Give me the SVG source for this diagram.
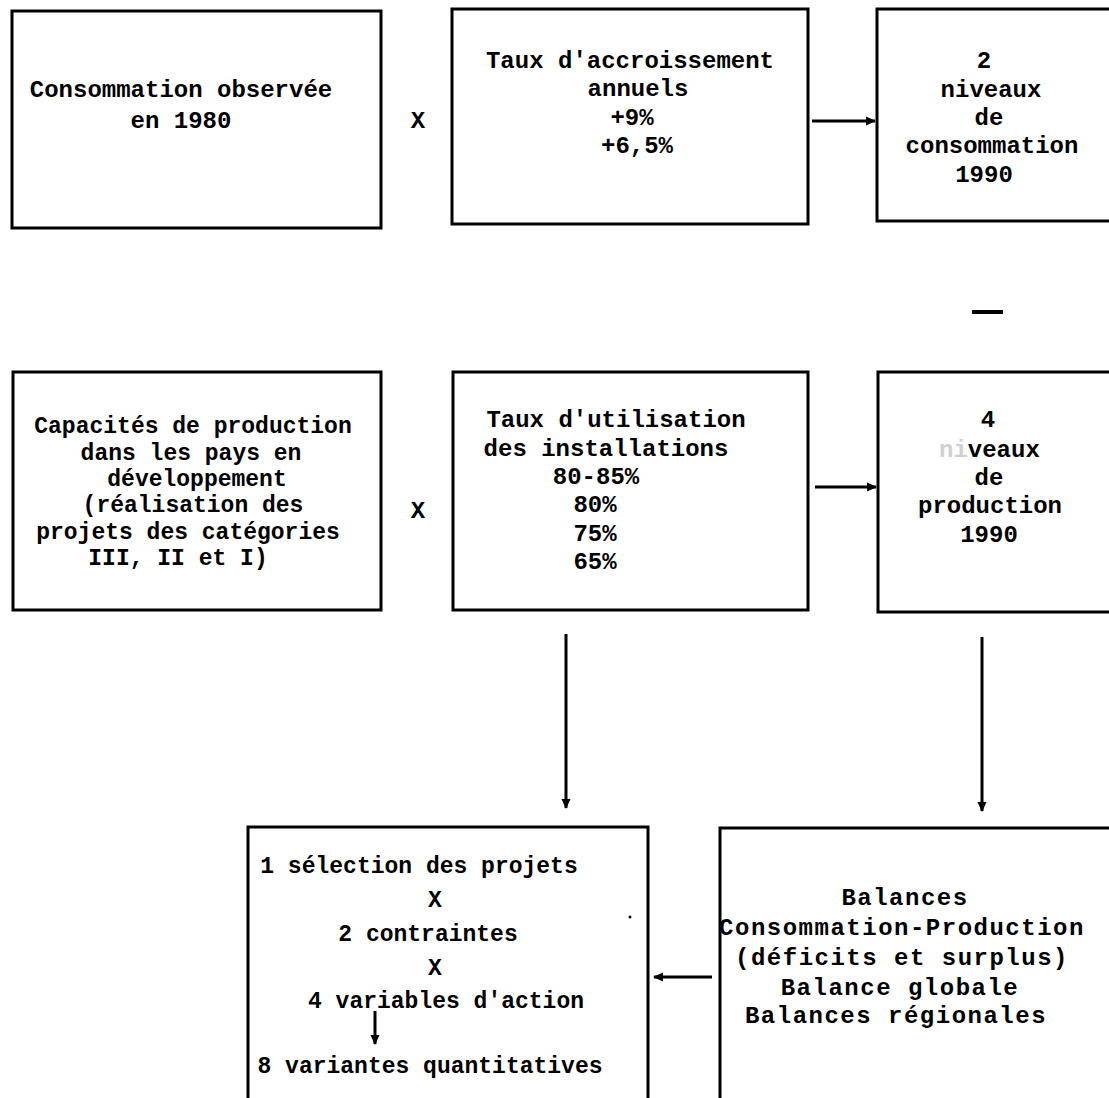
<svg xmlns="http://www.w3.org/2000/svg" width="1109" height="1098" viewBox="0 0 1109 1098">
<defs>
<marker id="ah" viewBox="0 0 10 10" refX="9" refY="5" markerWidth="11" markerHeight="10" markerUnits="userSpaceOnUse" orient="auto"><path d="M0,0.5 L10,5 L0,9.5 Z" fill="#000"/></marker>
</defs>
<style>
.box{fill:none;stroke:#000;stroke-width:3}
.t{font-family:"Liberation Mono","DejaVu Sans Mono",monospace;font-weight:bold;font-size:24px;fill:#000;text-anchor:middle}
.s{font-size:23px}
.w{letter-spacing:1.5px}
.c{stroke:#000;stroke-width:3;fill:none}
.faint{fill:#d0d0d0}
</style>
<rect x="0" y="0" width="1109" height="1098" fill="#fff"/>

<g id="consommation-1980">
<rect class="box" x="12" y="11" width="369" height="217"/>
<text class="t" x="181" y="97">Consommation observée</text>
<text class="t" x="181" y="128">en 1980</text>
</g>
<g id="x-top"><text class="t" x="418" y="128">X</text></g>

<g id="taux-accroissement">
<rect class="box" x="452" y="9" width="356" height="215"/>
<text class="t" x="630" y="68">Taux d'accroissement</text>
<text class="t" x="638" y="96">annuels</text>
<text class="t" x="632" y="125">+9%</text>
<text class="t" x="637" y="153">+6,5%</text>
</g>

<g id="niveaux-consommation">
<rect class="box" x="877" y="9" width="240" height="212"/>
<text class="t" x="984" y="68">2</text>
<text class="t" x="991" y="97">niveaux</text>
<text class="t" x="989" y="125">de</text>
<text class="t" x="992" y="153">consommation</text>
<text class="t" x="984" y="182">1990</text>
</g>

<g id="capacites">
<rect class="box" x="13" y="372" width="368" height="238"/>
<text class="t s" x="193" y="433">Capacités de production</text>
<text class="t s" x="191" y="460">dans les pays en</text>
<text class="t s" x="197" y="486">développement</text>
<text class="t s" x="193" y="512">(réalisation des</text>
<text class="t s" x="188" y="539">projets des catégories</text>
<text class="t s" x="178" y="565">III, II et I)</text>
</g>
<g id="x-mid"><text class="t" x="418" y="518">X</text></g>

<g id="taux-utilisation">
<rect class="box" x="453" y="372" width="355" height="238"/>
<text class="t" x="616" y="427">Taux d'utilisation</text>
<text class="t" x="606" y="456">des installations</text>
<text class="t" x="596" y="484">80-85%</text>
<text class="t" x="595" y="512">80%</text>
<text class="t" x="595" y="541">75%</text>
<text class="t" x="595" y="569">65%</text>
</g>

<g id="niveaux-production">
<rect class="box" x="878" y="372" width="240" height="240"/>
<text class="t" x="988" y="427">4</text>
<text class="t" x="939" y="457" style="text-anchor:start"><tspan class="faint">ni</tspan>veaux</text>
<text class="t" x="989" y="485">de</text>
<text class="t" x="990" y="513">production</text>
<text class="t" x="989" y="542">1990</text>
</g>

<g id="selection">
<rect class="box" x="248" y="827" width="400" height="290"/>
<text class="t s" x="419" y="873">1 sélection des projets</text>
<text class="t s" x="435" y="907">X</text>
<text class="t s" x="428" y="941">2 contraintes</text>
<text class="t s" x="435" y="975">X</text>
<text class="t s" x="446" y="1008">4 variables d'action</text>
<text class="t s" x="430" y="1073">8 variantes quantitatives</text>
</g>

<g id="balances">
<rect class="box" x="720" y="828" width="400" height="290"/>
<text class="t w" x="905" y="905">Balances</text>
<text class="t w" x="902" y="935">Consommation-Production</text>
<text class="t w" x="902" y="965">(déficits et surplus)</text>
<text class="t w" x="900" y="995">Balance globale</text>
<text class="t w" x="896" y="1023">Balances régionales</text>
</g>

<g id="connectors">
<path class="c" d="M812,121 H875" marker-end="url(#ah)"/>
<path class="c" d="M815,487 H876" marker-end="url(#ah)"/>
<path class="c" d="M566,634 V808" marker-end="url(#ah)"/>
<path class="c" d="M982,637 V811" marker-end="url(#ah)"/>
<path class="c" d="M712,977 H654" marker-end="url(#ah)"/>
<path class="c" d="M375,1011 V1044" marker-end="url(#ah)"/>
</g>

<g id="marks">
<path d="M972,312 H1003" stroke="#000" stroke-width="4" fill="none"/>
<circle cx="630" cy="917" r="1.5" fill="#000"/>
</g>
</svg>
